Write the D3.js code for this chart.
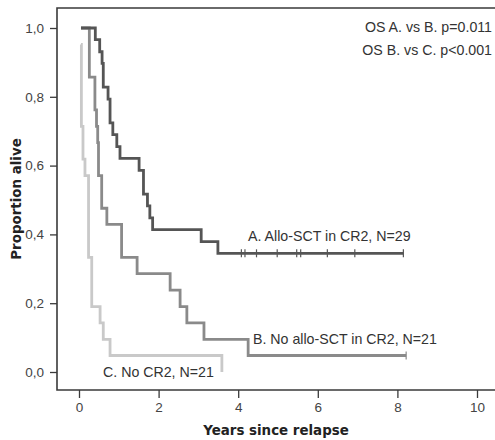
<!DOCTYPE html>
<html>
<head>
<meta charset="utf-8">
<script src="https://cdn.jsdelivr.net/npm/d3@7"></script>
<style>
  html, body { margin: 0; padding: 0; background: #fff; }
  svg { display: block; }
  text { font-family: "Liberation Sans", Arial, sans-serif; }
  text.axis-title { font-family: "DejaVu Sans", Verdana, sans-serif; font-weight: bold; }
</style>
</head>
<body>
<svg id="chart" width="495" height="440"></svg>
<script>
// Kaplan-Meier overall survival by group (time in years since relapse)
const timesA = [0.05, 0.41, 0.52, 0.58, 0.61, 0.73, 0.78, 0.85, 0.95, 1.03, 1.51, 1.62, 1.72, 1.78, 1.85, 3.07, 3.49, 8.15];
const survA  = [1, 0.966, 0.931, 0.897, 0.828, 0.793, 0.724, 0.690, 0.655, 0.621, 0.586, 0.517, 0.483, 0.448, 0.414, 0.379, 0.345, 0.345];
const censA  = [4.08, 4.17, 4.46, 4.98, 5.47, 5.57, 6.24, 6.93, 8.15];

const timesB = [0.05, 0.26, 0.40, 0.44, 0.47, 0.49, 0.57, 0.70, 1.07, 1.46, 2.29, 2.54, 2.71, 3.14, 4.25, 8.22];
const survB  = [1, 0.857, 0.762, 0.714, 0.667, 0.571, 0.476, 0.429, 0.333, 0.286, 0.238, 0.190, 0.143, 0.095, 0.048, 0.048];
const censB  = [8.22];

const timesC = [0.05, 0.06, 0.10, 0.15, 0.24, 0.32, 0.53, 0.61, 0.78, 3.59];
const survC  = [0.952, 0.714, 0.619, 0.571, 0.333, 0.190, 0.143, 0.095, 0.048, 0];
const censC  = [];

const groupNames = ["A. Allo-SCT in CR2, N=29", "B. No allo-SCT in CR2, N=21", "C. No CR2, N=21"];
const pValueNotes = ["OS A. vs B. p=0.011", "OS B. vs C. p<0.001"];

const xTicks = [0, 2, 4, 6, 8, 10];
const yTicks = [0, 0.2, 0.4, 0.6, 0.8, 1.0];

const svg = d3.select("#chart");
const x = d3.scaleLinear().domain([0, 10]).range([79, 477]);
const y = d3.scaleLinear().domain([0, 1]).range([372, 28]);

const frame = { left: 57, top: 8, bottom: 390, right: 500 };
const axisColor = "#3a3a3a";

// plot frame: top, left and bottom edges
svg.append("path")
  .attr("d", `M${frame.right},${frame.top}H${frame.left}V${frame.bottom}H${frame.right}`)
  .attr("fill", "none").attr("stroke", axisColor).attr("stroke-width", 1.6);

// y axis
const yAxis = svg.append("g").attr("transform", `translate(${frame.left},0)`)
  .call(d3.axisLeft(y).tickValues(yTicks).tickSize(7).tickPadding(6)
    .tickFormat(d => d3.format(".1f")(d).replace(".", ",")));
yAxis.select(".domain").remove();
yAxis.selectAll("line").attr("stroke", axisColor).attr("stroke-width", 1.3);
yAxis.selectAll("text").attr("font-size", 13.5).attr("fill", "#444");

// x axis
const xAxis = svg.append("g").attr("transform", `translate(0,${frame.bottom})`)
  .call(d3.axisBottom(x).tickValues(xTicks).tickSize(8).tickPadding(4)
    .tickFormat(d3.format("d")));
xAxis.select(".domain").remove();
xAxis.selectAll("line").attr("stroke", axisColor).attr("stroke-width", 1.3);
xAxis.selectAll("text").attr("font-size", 13.5).attr("fill", "#444");

// axis titles
svg.append("text").attr("class", "axis-title")
  .attr("x", 276).attr("y", 435).attr("text-anchor", "middle")
  .attr("font-size", 13.4).attr("fill", "#222")
  .text("Years since relapse");
svg.append("text").attr("class", "axis-title")
  .attr("transform", `translate(21,${y(0.5) - 1}) rotate(-90)`)
  .attr("text-anchor", "middle")
  .attr("font-size", 13.4).attr("fill", "#222")
  .text("Proportion alive");

// survival step curves
const step = d3.line().x(d => x(d[0])).y(d => y(d[1])).curve(d3.curveStepAfter);
const groups = [
  { t: timesA, s: survA, c: censA, color: "#555555" },
  { t: timesB, s: survB, c: censB, color: "#8a8a8a" },
  { t: timesC, s: survC, c: censC, color: "#c9c9c9" }
];

// draw light curves first so darker curves sit on top
[...groups].reverse().forEach(g => {
  const pts = g.t.map((t, i) => [t, g.s[i]]);
  svg.append("path").datum(pts)
    .attr("d", step)
    .attr("fill", "none").attr("stroke", g.color)
    .attr("stroke-width", 2.8).attr("stroke-linejoin", "miter");

  // censoring marks at the survival level current at each time
  const levelAt = t => {
    let v = g.s[0];
    g.t.forEach((tt, i) => { if (tt <= t) v = g.s[i]; });
    return v;
  };
  svg.append("g").selectAll("line").data(g.c).join("line")
    .attr("x1", d => x(d)).attr("x2", d => x(d))
    .attr("y1", d => y(levelAt(d)) - 4).attr("y2", d => y(levelAt(d)) + 4)
    .attr("stroke", g.color).attr("stroke-width", 1.2);
});

// group labels
const labelPos = [[248, 240.5], [253, 344], [103, 377]];
groupNames.forEach((name, i) => {
  svg.append("text")
    .attr("x", labelPos[i][0]).attr("y", labelPos[i][1])
    .attr("font-size", 14.2).attr("fill", "#333")
    .text(name);
});

// log-rank notes
pValueNotes.forEach((note, i) => {
  svg.append("text")
    .attr("x", 492).attr("y", 32 + i * 23).attr("text-anchor", "end")
    .attr("font-size", 14.2).attr("fill", "#333")
    .text(note);
});
</script>
</body>
</html>
